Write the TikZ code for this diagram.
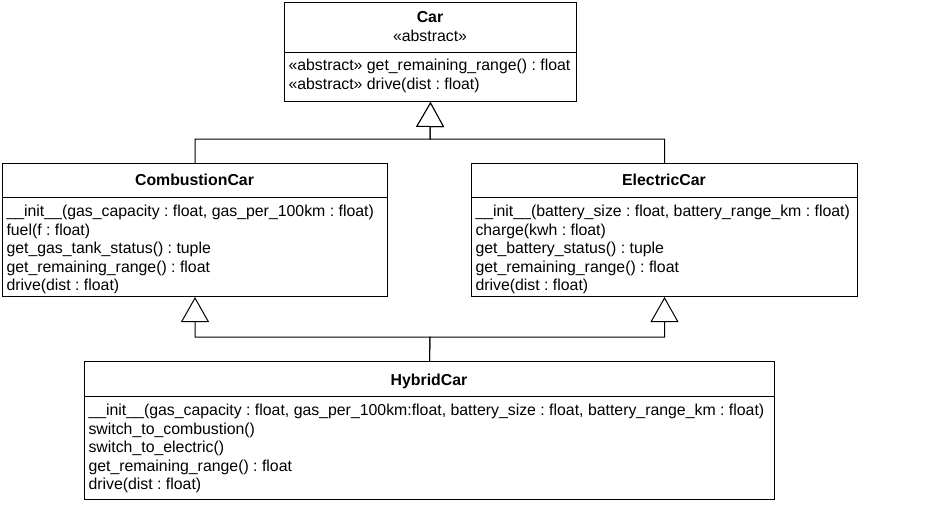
\documentclass[tikz,border=0pt]{standalone}
\usepackage{fontspec}
\setmainfont{Liberation Sans}
\usetikzlibrary{arrows.meta}
\frenchspacing
\begin{document}
\begin{tikzpicture}[x=1pt,y=-1pt,line width=1pt,
  cls/.style={draw,rectangle,inner sep=0pt,anchor=north west,fill=white},
  txt/.style={anchor=base west,inner sep=0pt,font=\fontsize{15.85}{18.5}\selectfont\frenchspacing},
  ttl/.style={anchor=base,inner sep=0pt,font=\fontsize{15.85}{18.5}\selectfont\bfseries},
  stereo/.style={anchor=base,inner sep=0pt,font=\fontsize{15.85}{18.5}\selectfont},
  gen/.style={-{Triangle[open,length=25pt,width=28pt,fill=white]}}]
\useasboundingbox[fill=white] (0,0) rectangle (949,512);

% ---- class boxes
\node[cls,minimum width=292pt,minimum height=99pt] (car) at (284,2) {};
\node[cls,minimum width=385pt,minimum height=133pt] (comb) at (2,163) {};
\node[cls,minimum width=386pt,minimum height=133pt] (elec) at (471,163) {};
\node[cls,minimum width=690pt,minimum height=138pt] (hyb) at (84,361) {};

% ---- separators
\draw (284,52) -- (576,52);
\draw (2,197) -- (387,197);
\draw (471,197) -- (857,197);
\draw (84,396) -- (774,396);

% ---- Car
\node[ttl] (car-t) at (430,22.5) {Car};
\node[stereo] (car-s) at (430,41) {«abstract»};
\node[txt] (car-m1) at (288,70.5) {«abstract» get\_remaining\_range() : float};
\node[txt] (car-m2) at (288,89) {«abstract» drive(dist : float)};

% ---- CombustionCar
\node[ttl] (comb-t) at (194.5,185.5) {CombustionCar};
\foreach \i/\s in {0/{\_\_init\_\_(gas\_capacity : float, gas\_per\_100km : float)},
                   1/{fuel(f : float)},
                   2/{get\_gas\_tank\_status() : tuple},
                   3/{get\_remaining\_range() : float},
                   4/{drive(dist : float)}}
  \node[txt] (comb-m\i) at (6,216.5+18.5*\i) {\s};

% ---- ElectricCar
\node[ttl] (elec-t) at (664,185.5) {ElectricCar};
\foreach \i/\s in {0/{\_\_init\_\_(battery\_size : float, battery\_range\_km : float)},
                   1/{charge(kwh : float)},
                   2/{get\_battery\_status() : tuple},
                   3/{get\_remaining\_range() : float},
                   4/{drive(dist : float)}}
  \node[txt] (elec-m\i) at (475,216.5+18.5*\i) {\s};

% ---- HybridCar
\node[ttl] (hyb-t) at (429,385.5) {HybridCar};
\foreach \i/\s in {0/{\_\_init\_\_(gas\_capacity : float, gas\_per\_100km:float, battery\_size : float, battery\_range\_km : float)},
                   1/{switch\_to\_combustion()},
                   2/{switch\_to\_electric()},
                   3/{get\_remaining\_range() : float},
                   4/{drive(dist : float)}}
  \node[txt] (hyb-m\i) at (88,415.5+18.5*\i) {\s};

% ---- generalisation connectors
\coordinate (jt) at (430,139);
\coordinate (jb) at (430,337);
\draw[gen] (comb.north) |- (jt) -- (car.south);
\draw[gen] (elec.north) |- (jt) -- (car.south);
\draw[gen] (hyb.north) -- (jb) -| (comb.south);
\draw[gen] (hyb.north) -- (jb) -| (elec.south);
\end{tikzpicture}
\end{document}
